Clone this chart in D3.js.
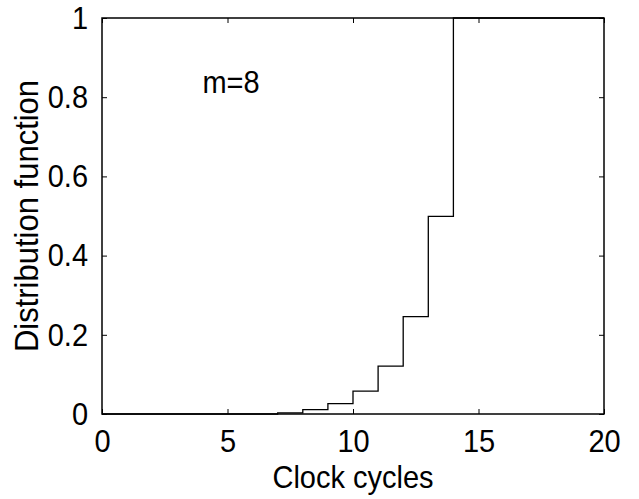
<!DOCTYPE html>
<html>
<head>
<meta charset="utf-8">
<script src="https://cdn.jsdelivr.net/npm/d3@7"></script>
<style>
  html, body { margin: 0; padding: 0; background: #fff; }
  svg { display: block; }
  text { font-family: "Liberation Sans", Arial, Helvetica, sans-serif; fill: #000; }
</style>
</head>
<body>
<svg id="chart" width="639" height="499"></svg>
<script>
const cycles = [0,1,2,3,4,5,6,7,8,9,10,11,12,13,14,15,16,17,18,19,20];
const distribution = [0,0,0,0,0,0,0,0.003,0.011,0.026,0.058,0.121,0.246,0.499,1,1,1,1,1,1,1];
const xTicks = [0,5,10,15,20];
const yTicks = [0,0.2,0.4,0.6,0.8,1];
const xLabel = "Clock cycles";
const yLabel = "Distribution function";
const annotation = "m=8";

const svg = d3.select("#chart");
const W = 639, H = 499;
const m = {left: 102, right: 35, top: 18, bottom: 85};
const iw = W - m.left - m.right, ih = H - m.top - m.bottom;

const x = d3.scaleLinear().domain([0, 20]).range([m.left, m.left + iw]);
const y = d3.scaleLinear().domain([0, 1]).range([m.top + ih, m.top]);

const g = svg.append("g");
const stretch = 1.1;

// plot line
const data = cycles.map((c, i) => ({c, v: distribution[i]}));
g.append("path")
  .datum(data)
  .attr("fill", "none")
  .attr("stroke", "#000")
  .attr("stroke-width", 1.3)
  .attr("d", d3.line().x(d => x(d.c)).y(d => y(d.v)).curve(d3.curveStepAfter));

const tickLen = 5;
const fs = 29;

// bottom axis
const bx = g.append("g").attr("transform", `translate(0,${y(0)})`)
  .call(d3.axisBottom(x).tickValues(xTicks).tickFormat(d3.format("d")).tickSizeInner(-tickLen).tickSizeOuter(0).tickPadding(14));
// top axis ticks
const tx = g.append("g").attr("transform", `translate(0,${y(1)})`)
  .call(d3.axisTop(x).tickValues(xTicks).tickFormat("").tickSizeInner(-tickLen).tickSizeOuter(0));
// left axis
const ly = g.append("g").attr("transform", `translate(${x(0)},0)`)
  .call(d3.axisLeft(y).tickValues(yTicks).tickFormat(d => d3.format("")(d)).tickSizeInner(-tickLen).tickSizeOuter(0).tickPadding(14));
// right axis ticks
const ry = g.append("g").attr("transform", `translate(${x(20)},0)`)
  .call(d3.axisRight(y).tickValues(yTicks).tickFormat("").tickSizeInner(-tickLen).tickSizeOuter(0));

[bx, tx, ly, ry].forEach(a => {
  a.select(".domain").remove();
  a.selectAll(".tick line").attr("stroke", "#000").attr("stroke-width", 1);
  a.selectAll("text").attr("font-size", fs).attr("font-family", '"Liberation Sans", Arial, sans-serif');
});
bx.selectAll("text").attr("y", 0).attr("dy", 0)
  .attr("transform", `translate(0,38) scale(1,${stretch})`);
ly.selectAll("text").attr("transform", `scale(1,${stretch})`);

// box
g.append("rect")
  .attr("x", x(0)).attr("y", y(1))
  .attr("width", x(20) - x(0)).attr("height", y(0) - y(1))
  .attr("fill", "none").attr("stroke", "#000").attr("stroke-width", 1.5);

// labels
g.append("text")
  .attr("transform", `translate(${(x(0) + x(20)) / 2},487.5) scale(1,${stretch})`)
  .attr("text-anchor", "middle").attr("font-size", fs)
  .text(xLabel);

g.append("text")
  .attr("transform", `translate(38,${(y(0) + y(1)) / 2}) rotate(-90) scale(1,${stretch})`)
  .attr("text-anchor", "middle").attr("font-size", 31)
  .text(yLabel);

g.append("text")
  .attr("transform", `translate(${x(4)},${y(0.81)}) scale(1,${stretch})`)
  .attr("font-size", fs)
  .text(annotation);
</script>
</body>
</html>
